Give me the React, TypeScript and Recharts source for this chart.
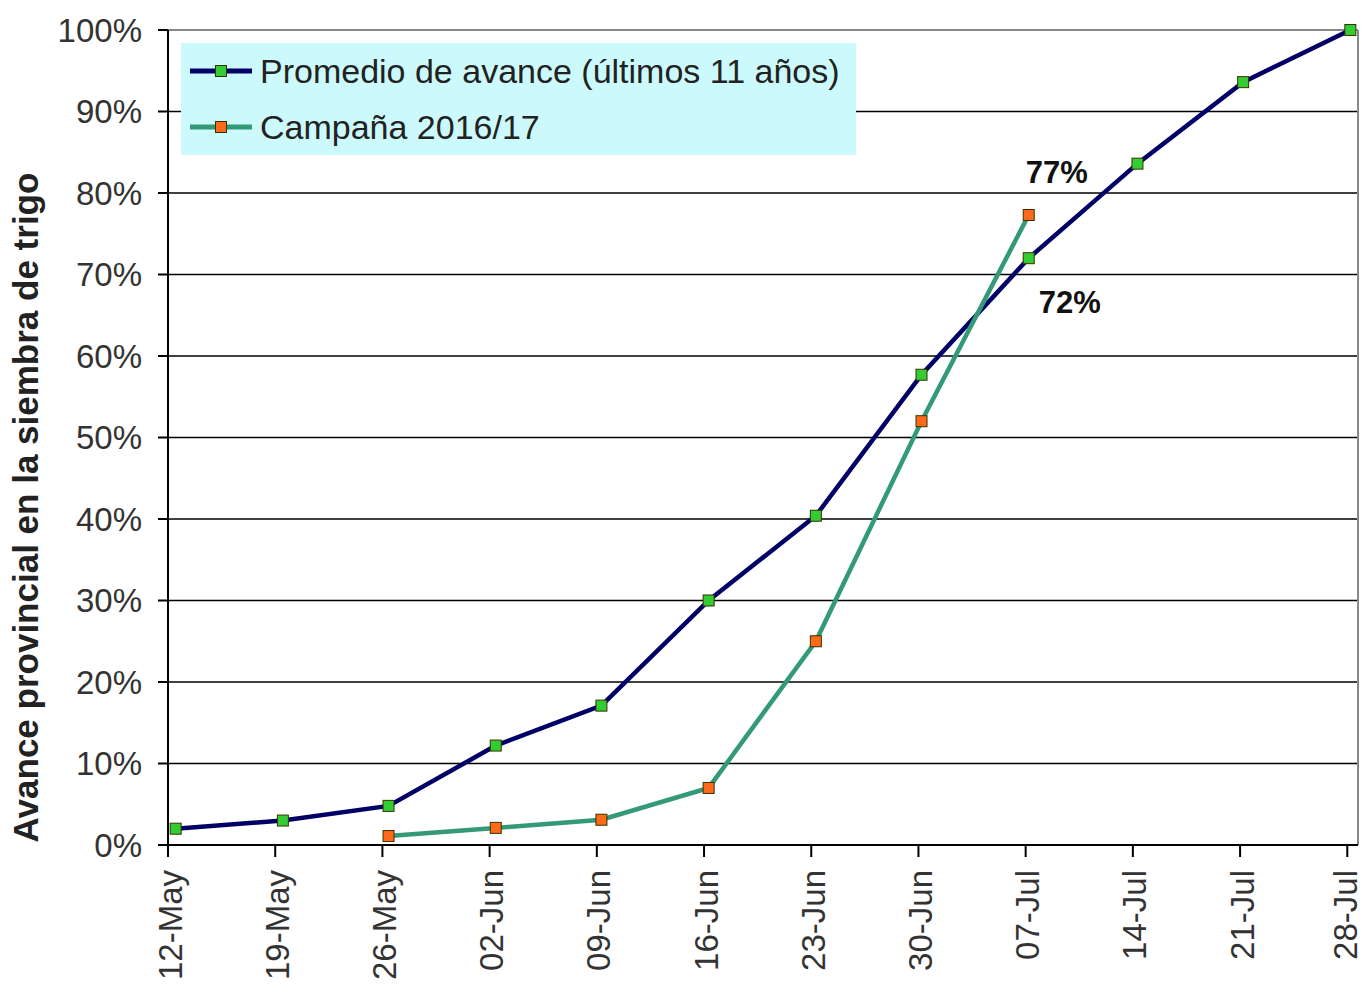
import React from 'react';
import { LineChart, Line, XAxis, YAxis, CartesianGrid, Legend, ReferenceLine } from 'recharts';

// weekly dates (tick labels) and where each survey point sits, in days after 12-May
const dates = ['12-May', '19-May', '26-May', '02-Jun', '09-Jun', '16-Jun', '23-Jun', '30-Jun', '07-Jul', '14-Jul', '21-Jul', '28-Jul'];
const tickDays = [0, 7, 14, 21, 28, 35, 42, 49, 56, 63, 70, 77];
const pointDays = [0.5, 7.5, 14.4, 21.4, 28.3, 35.3, 42.3, 49.2, 56.2, 63.3, 70.2, 77.2];

const promedio = [2, 3, 4.8, 12.2, 17.1, 30, 40.4, 57.7, 72, 83.6, 93.6, 100];
const campana = [null, null, 1.1, 2.1, 3.1, 7, 25, 52, 77.3, null, null, null];

const yTicks = [0, 10, 20, 30, 40, 50, 60, 70, 80, 90, 100];

const data = pointDays.map((d, i) => ({ day: d, promedio: promedio[i], campana: campana[i] }));

const FONT = 'Arial, "Liberation Sans", sans-serif';

const series = {
  promedio: { name: 'Promedio de avance (últimos 11 años)', stroke: '#000066', marker: '#33cc33' },
  campana: { name: 'Campaña 2016/17', stroke: '#339977', marker: '#ff6a1a' },
};

const SquareDot = (fill: string) => (props: any) => {
  const { cx, cy, value } = props;
  if (value == null || cx == null || cy == null) return null;
  return <rect x={cx - 5.5} y={cy - 5.5} width={11} height={11} fill={fill} stroke="#333300" strokeWidth={1} />;
};

const XTick = (props: any) => {
  const { x, y, payload } = props;
  const idx = tickDays.indexOf(payload.value);
  // last label sits against the page edge, nudge it in a touch
  const lx = idx === dates.length - 1 ? x - 2 : x + 2;
  return (
    <text
      x={lx}
      y={y}
      transform={`rotate(-90 ${lx} ${y})`}
      textAnchor="end"
      dominantBaseline="central"
      fontFamily={FONT}
      fontSize={33}
      fill="#333"
    >
      {dates[idx]}
    </text>
  );
};

const endLabel = (text: string, idx: number, dx: number, dy: number) => (props: any) => {
  const { x, y, index } = props;
  if (index !== idx) return null;
  return (
    <text x={x + dx} y={y + dy} textAnchor="middle" dominantBaseline="central" fontFamily={FONT} fontWeight="bold" fontSize={31} fill="#111">
      {text}
    </text>
  );
};

const LegendBox = () => (
  <div style={{ background: '#ccfafc', width: 675, height: 112, fontFamily: FONT, fontSize: 34, color: '#222', boxSizing: 'border-box', paddingTop: 5 }}>
    {(['promedio', 'campana'] as const).map((k) => (
      <div key={k} style={{ display: 'flex', alignItems: 'center', height: 46, marginBottom: 10 }}>
        <svg width={72} height={20} style={{ marginLeft: 7 }}>
          <line x1={2} y1={10} x2={64} y2={10} stroke={series[k].stroke} strokeWidth={5} />
          <rect x={27.5} y={4.5} width={11} height={11} fill={series[k].marker} stroke="#333300" />
        </svg>
        <span>{series[k].name}</span>
      </div>
    ))}
  </div>
);

export default function App() {
  return (
    <div style={{ position: 'absolute', left: 0, top: 0, background: '#fff' }}>
      <LineChart width={1363} height={984} data={data} margin={{ top: 30, right: 5, left: 0, bottom: 0 }}>
        <CartesianGrid vertical={false} stroke="#000" strokeWidth={1.5} />
        <ReferenceLine y={100} stroke="#888" strokeWidth={2} />
        <ReferenceLine x={77.7} stroke="#888" strokeWidth={2} />
        <XAxis
          dataKey="day"
          type="number"
          domain={[0, 77.7]}
          ticks={tickDays}
          interval={0}
          height={139}
          tick={<XTick />}
          tickSize={12}
          tickMargin={13}
          stroke="#000"
          strokeWidth={2}
          allowDataOverflow
        />
        <YAxis
          domain={[0, 100]}
          ticks={yTicks}
          interval={0}
          width={168}
          tickFormatter={(v) => `${v}%`}
          tick={{ fontFamily: FONT, fontSize: 33, fill: '#333' }}
          tickSize={10}
          tickMargin={16}
          stroke="#000"
          strokeWidth={2}
          label={{
            value: 'Avance provincial en la siembra de trigo',
            angle: -90,
            position: 'insideLeft',
            dx: 21,
            dy: 70,
            style: { fontFamily: FONT, fontWeight: 'bold', fontSize: 35, fill: '#222', textAnchor: 'middle' },
          }}
        />
        <Legend
          layout="vertical"
          align="center"
          verticalAlign="middle"
          content={<LegendBox />}
          wrapperStyle={{ left: 181, top: 43, width: 675, height: 112 }}
        />
        <Line
          type="linear"
          dataKey="promedio"
          name={series.promedio.name}
          stroke={series.promedio.stroke}
          strokeWidth={4.5}
          dot={SquareDot(series.promedio.marker)}
          label={endLabel('72%', 8, 41, 44)}
          isAnimationActive={false}
        />
        <Line
          type="linear"
          dataKey="campana"
          name={series.campana.name}
          stroke={series.campana.stroke}
          strokeWidth={4.5}
          dot={SquareDot(series.campana.marker)}
          label={endLabel('77%', 8, 28, -43)}
          isAnimationActive={false}
        />
      </LineChart>
    </div>
  );
}
